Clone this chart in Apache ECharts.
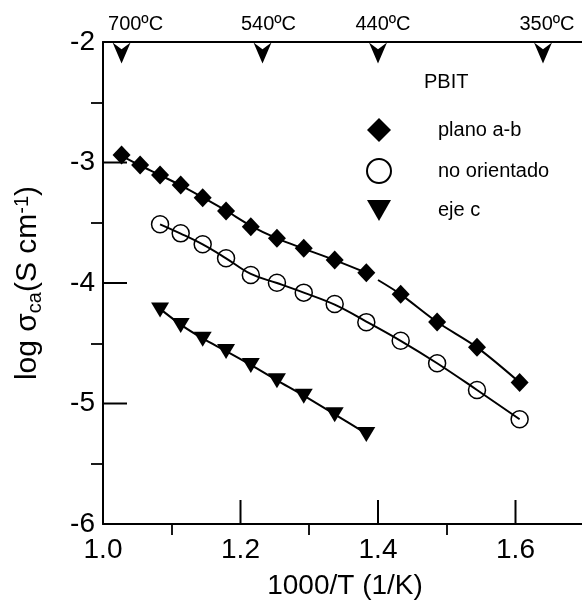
<!DOCTYPE html>
<html><head><meta charset="utf-8">
<script src="https://cdn.jsdelivr.net/npm/echarts@6/dist/echarts.min.js"></script>
<style>html,body{margin:0;padding:0;background:#fff}#c{width:582px;height:606px}</style>
</head><body><div id="c"></div>
<script>
// plano a-b (filled diamonds)
const xAB = [1.027,1.054,1.083,1.113,1.145,1.179,1.215,1.253,1.292,1.337,1.383,1.433,1.486,1.544,1.606];
const yAB = [-2.938,-3.021,-3.104,-3.187,-3.292,-3.402,-3.533,-3.629,-3.712,-3.809,-3.915,-4.094,-4.324,-4.534,-4.825];
// no orientado (open circles)
const xNO = [1.083,1.113,1.145,1.179,1.215,1.253,1.292,1.337,1.383,1.433,1.486,1.544,1.606];
const yNO = [-3.513,-3.588,-3.679,-3.795,-3.934,-3.998,-4.080,-4.174,-4.325,-4.479,-4.666,-4.888,-5.131];
// eje c (filled down triangles)
const xEC = [1.083,1.113,1.145,1.179,1.215,1.253,1.292,1.337,1.383];
const yEC = [-4.224,-4.353,-4.466,-4.568,-4.685,-4.812,-4.939,-5.094,-5.257];
// fitted curves
const abFit1X = [1.027,1.054,1.083,1.113,1.145,1.179,1.215,1.253,1.292,1.337,1.383];
const abFit1Y = [-2.945,-3.025,-3.105,-3.190,-3.290,-3.400,-3.525,-3.630,-3.715,-3.810,-3.915];
const abFit2X = [1.400,1.433,1.486,1.544,1.606];
const abFit2Y = [-3.975,-4.094,-4.324,-4.534,-4.825];
const noFitX = [1.083,1.113,1.145,1.179,1.215,1.253,1.292,1.337,1.383,1.433,1.486,1.544,1.606];
const noFitY = [-3.513,-3.590,-3.680,-3.795,-3.925,-4.000,-4.080,-4.180,-4.320,-4.480,-4.666,-4.888,-5.131];
const ecFitX = [1.083,1.113,1.145,1.179,1.215,1.253,1.292,1.337,1.383];
const ecFitY = [-4.215,-4.345,-4.460,-4.565,-4.680,-4.808,-4.935,-5.090,-5.250];
// temperature markers on top axis
const tempLabels = ['700ºC','540ºC','440ºC','350ºC'];
const tempX = [1.027,1.232,1.400,1.640];
const xTicks = [1.0,1.2,1.4,1.6];
const yTicks = [-6,-5,-4,-3,-2];
const seriesNames = ['plano a-b','no orientado','eje c'];

const X_MIN = 1.0, X_MAX = 1.8, Y_MIN = -6, Y_MAX = -2;
const zip = (a,b) => a.map((v,i)=>[v,b[i]]);
const FONT = 'Liberation Sans, Arial, sans-serif';
const lineStyle = {color:'#000', width:2};
const labelDx = [14,6,5,4];
const tickStyle = {color:'#000', width:1.8};
const MAJOR_LEN = 24;

function tickSeries(values, isX) {
  return {
    type:'custom', silent:true, clip:false, z:3,
    data: values.map(v => isX ? [v, Y_MIN] : [X_MIN, v]),
    renderItem:(params, api) => {
      const p = api.coord([api.value(0), api.value(1)]);
      return {type:'line', shape: isX
        ? {x1:p[0], y1:p[1], x2:p[0], y2:p[1]-MAJOR_LEN}
        : {x1:p[0], y1:p[1], x2:p[0]+MAJOR_LEN, y2:p[1]},
        style:{stroke:'#000', lineWidth:2}};
    }
  };
}

const chart = echarts.init(document.getElementById('c'), null, {renderer:'canvas'});
chart.setOption({
  animation:false,
  backgroundColor:'#fff',
  grid:{left:103, top:42, width:550, height:482, containLabel:false, outerBoundsMode:'none'},
  xAxis:[{
    type:'value', min:X_MIN, max:X_MAX, interval:0.2, position:'bottom',
    axisLine:{show:true, lineStyle:{color:'#000', width:2}},
    axisTick:{show:false},
    minorTick:{show:true, splitNumber:2, length:11, lineStyle:tickStyle},
    splitLine:{show:false},
    axisLabel:{color:'#000', fontSize:28, fontFamily:FONT, margin:12,
      formatter:v => xTicks.some(t=>Math.abs(t-v)<1e-6) ? v.toFixed(1) : ''},
    name:'1000/T (1/K)', nameLocation:'middle', nameGap:48,
    nameTextStyle:{color:'#000', fontSize:28, fontFamily:FONT, padding:[0,66,0,0]}
  },{
    type:'value', min:X_MIN, max:X_MAX, position:'top',
    axisLine:{show:true, lineStyle:{color:'#000', width:2}},
    axisTick:{show:false}, axisLabel:{show:false}, splitLine:{show:false}
  }],
  yAxis:{
    type:'value', min:Y_MIN, max:Y_MAX, interval:1,
    axisLine:{show:true, lineStyle:{color:'#000', width:2}},
    axisTick:{show:false},
    minorTick:{show:true, splitNumber:2, length:12, lineStyle:tickStyle},
    splitLine:{show:false},
    axisLabel:{color:'#000', fontSize:28, fontFamily:FONT, margin:8,
      formatter:v => yTicks.includes(v) ? String(v) : ''},
    name:'{a|log σ}{b|ca}{a|(S cm}{c|-1}{a|)}', nameLocation:'middle', nameGap:58,
    nameTextStyle:{color:'#000', fontFamily:FONT,
      rich:{
        a:{fontSize:30, fontFamily:FONT, color:'#000'},
        b:{fontSize:20, fontFamily:FONT, color:'#000', padding:[14,0,0,0]},
        c:{fontSize:20, fontFamily:FONT, color:'#000', padding:[0,0,12,0]}
      }}
  },
  legend:{
    orient:'vertical', left:366, top:118, padding:0, itemWidth:24, itemHeight:24, itemGap:16,
    data:[{name:seriesNames[0]},{name:seriesNames[1]},
      {name:seriesNames[2], icon:'path://M0,0 L24,0 L12,21 Z'}],
    textStyle:{color:'#000', fontSize:20, fontFamily:FONT, padding:[0,0,0,42]},
    selectedMode:false
  },
  graphic:[{
    type:'text', left:424, top:72,
    style:{text:'PBIT', fill:'#000', font:'20px '+FONT}
  }],
  series:[
    tickSeries(xTicks, true),
    tickSeries(yTicks, false),
    {type:'line', name:'fitAB1', data:zip(abFit1X,abFit1Y), smooth:0.3, symbol:'none', lineStyle, z:2, silent:true},
    {type:'line', name:'fitAB2', data:zip(abFit2X,abFit2Y), smooth:0.3, symbol:'none', lineStyle, z:2, silent:true},
    {type:'line', name:'fitNO', data:zip(noFitX,noFitY), smooth:0.4, symbol:'none', lineStyle, z:2, silent:true},
    {type:'line', name:'fitEC', data:zip(ecFitX,ecFitY), smooth:0.3, symbol:'none', lineStyle, z:2, silent:true},
    {type:'scatter', name:seriesNames[0], data:zip(xAB,yAB), symbol:'diamond', symbolSize:[18,19],
      itemStyle:{color:'#000', opacity:1}, z:5},
    {type:'scatter', name:seriesNames[1], data:zip(xNO,yNO), symbol:'circle', symbolSize:17,
      itemStyle:{color:'rgba(255,255,255,0)', borderColor:'#000', borderWidth:1.5, opacity:1}, z:5},
    {type:'scatter', name:seriesNames[2], data:zip(xEC,yEC), symbol:'triangle', symbolRotate:180, symbolSize:[18,15],
      itemStyle:{color:'#000', opacity:1}, z:5},
    {type:'scatter', name:'temps', xAxisIndex:0, clip:false, silent:true,
      data:tempX.map((x,i)=>({value:[x,-2], name:tempLabels[i], label:{offset:[labelDx[i],0]}})),
      symbol:'path://M0,0 L10,7 L20,0 L10,22 Z', symbolSize:[18,21], symbolOffset:[0,11],
      itemStyle:{color:'#000', opacity:1}, z:6,
      label:{show:true, position:'top', distance:8, formatter:p=>p.name,
        color:'#000', fontSize:20, fontFamily:FONT}
    }
  ]
});
</script></body></html>
